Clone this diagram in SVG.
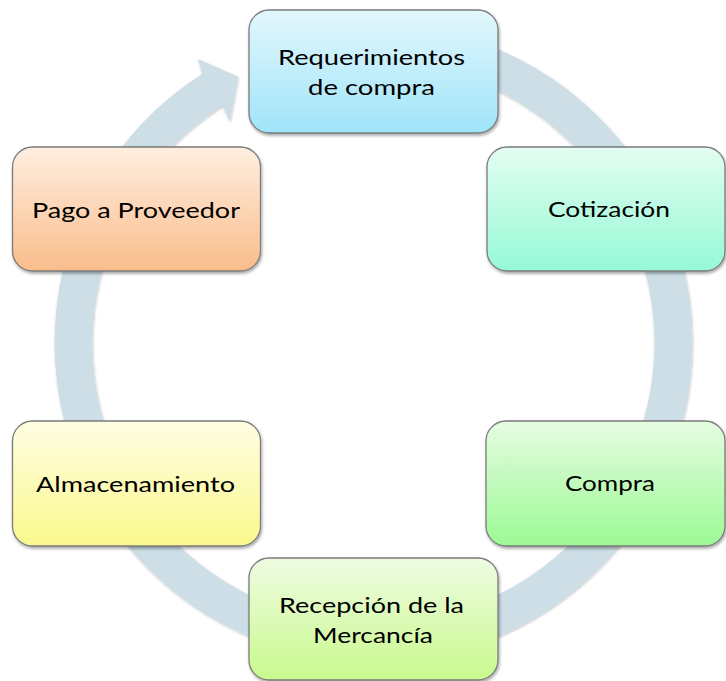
<svg xmlns="http://www.w3.org/2000/svg" width="726" height="681" viewBox="0 0 726 681">
  <style>
    .box { stroke: #7b7b7b; stroke-width: 1.3; filter: url(#shadow); }
    .lbl { font-family: Lato, "Liberation Sans", sans-serif; font-size: 22px; fill: #000; text-anchor: middle; }
    .ring { fill: #cddee6; filter: url(#ringShadow); }
  </style>
  <defs>
    <filter id="shadow" x="-10%" y="-10%" width="125%" height="130%">
      <feDropShadow dx="1" dy="2" stdDeviation="1.6" flood-color="#000" flood-opacity="0.35"/>
    </filter>
    <filter id="ringShadow" x="-10%" y="-10%" width="120%" height="120%">
      <feDropShadow dx="0.5" dy="1" stdDeviation="1.2" flood-color="#000" flood-opacity="0.25"/>
    </filter>
    <linearGradient id="gBlue" x1="0" y1="0" x2="0" y2="1">
      <stop offset="0" stop-color="#e3f7fd"/>
      <stop offset="1" stop-color="#9fe4f9"/>
    </linearGradient>
    <linearGradient id="gMint" x1="0" y1="0" x2="0" y2="1">
      <stop offset="0" stop-color="#e3fdf1"/>
      <stop offset="1" stop-color="#95f9d6"/>
    </linearGradient>
    <linearGradient id="gGreen" x1="0" y1="0" x2="0" y2="1">
      <stop offset="0" stop-color="#e5fce2"/>
      <stop offset="1" stop-color="#9cf994"/>
    </linearGradient>
    <linearGradient id="gLime" x1="0" y1="0" x2="0" y2="1">
      <stop offset="0" stop-color="#eefce2"/>
      <stop offset="1" stop-color="#c9f98d"/>
    </linearGradient>
    <linearGradient id="gYellow" x1="0" y1="0" x2="0" y2="1">
      <stop offset="0" stop-color="#fffde3"/>
      <stop offset="1" stop-color="#faf98c"/>
    </linearGradient>
    <linearGradient id="gOrange" x1="0" y1="0" x2="0" y2="1">
      <stop offset="0" stop-color="#ffeee0"/>
      <stop offset="1" stop-color="#fabd8b"/>
    </linearGradient>
  </defs>
  <rect x="0" y="0" width="726" height="681" fill="#ffffff"/>

  <g id="connectors">
    <path class="ring" d="M 373.5,24 A 319 319 0 1 1 202.1,74.0 L 198,59 L 238.3,76.7 L 230,121.7 L 222.5,106.0 A 281 281 0 1 0 373.5,62 Z"/>
  </g>

  <g id="node-requerimientos">
    <rect class="box" x="249" y="10" width="249" height="123" rx="20" fill="url(#gBlue)"/>
    <text class="lbl" x="371.5" y="65" textLength="187" lengthAdjust="spacingAndGlyphs">Requerimientos</text>
    <text class="lbl" x="371.5" y="95" textLength="127" lengthAdjust="spacingAndGlyphs">de compra</text>
  </g>

  <g id="node-cotizacion">
    <rect class="box" x="487" y="147" width="238" height="124" rx="20" fill="url(#gMint)"/>
    <text class="lbl" x="609" y="216.5" textLength="122" lengthAdjust="spacingAndGlyphs">Cotización</text>
  </g>

  <g id="node-compra">
    <rect class="box" x="486" y="421" width="239" height="125" rx="20" fill="url(#gGreen)"/>
    <text class="lbl" x="610" y="491" textLength="90" lengthAdjust="spacingAndGlyphs">Compra</text>
  </g>

  <g id="node-recepcion">
    <rect class="box" x="249" y="558" width="249" height="122" rx="20" fill="url(#gLime)"/>
    <text class="lbl" x="371.5" y="613" textLength="185" lengthAdjust="spacingAndGlyphs">Recepción de la</text>
    <text class="lbl" x="373" y="643" textLength="120" lengthAdjust="spacingAndGlyphs">Mercancía</text>
  </g>

  <g id="node-almacenamiento">
    <rect class="box" x="12.5" y="421" width="248" height="125" rx="20" fill="url(#gYellow)"/>
    <text class="lbl" x="135.5" y="491.5" textLength="199" lengthAdjust="spacingAndGlyphs">Almacenamiento</text>
  </g>

  <g id="node-pago">
    <rect class="box" x="12.5" y="147" width="248" height="124" rx="20" fill="url(#gOrange)"/>
    <text class="lbl" x="136" y="217.5" textLength="208" lengthAdjust="spacingAndGlyphs">Pago a Proveedor</text>
  </g>
</svg>
